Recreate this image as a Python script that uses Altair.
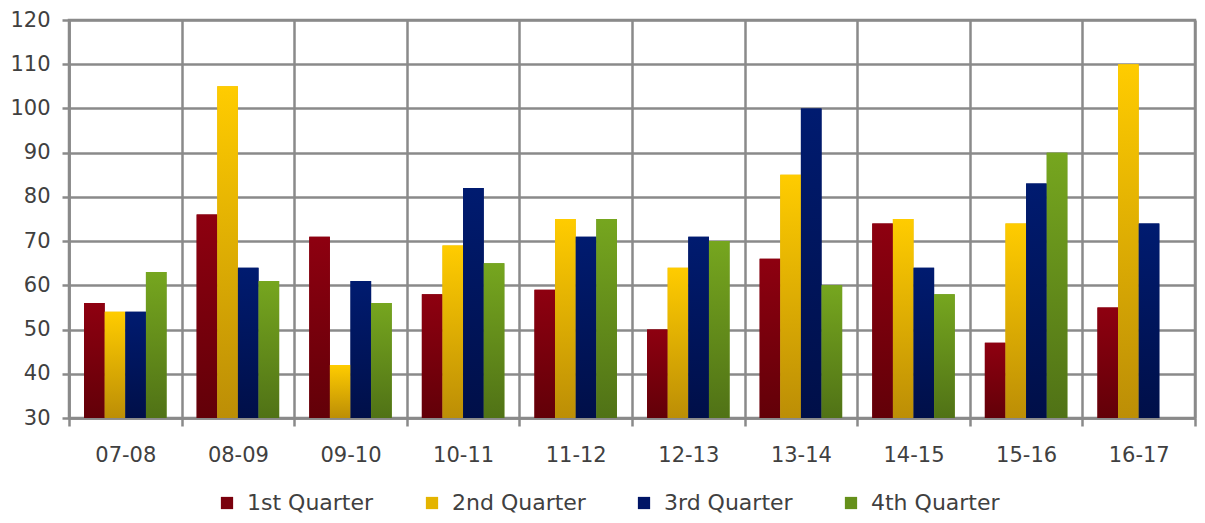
import altair as alt
import pandas as pd

seasons = ["07-08", "08-09", "09-10", "10-11", "11-12", "12-13", "13-14", "14-15", "15-16", "16-17"]
quarters = ["1st Quarter", "2nd Quarter", "3rd Quarter", "4th Quarter"]
q1 = [56, 76, 71, 58, 59, 50, 66, 74, 47, 55]
q2 = [54, 105, 42, 69, 75, 64, 85, 75, 74, 110]
q3 = [54, 64, 61, 82, 71, 71, 100, 64, 83, 74]
q4 = [63, 61, 56, 65, 75, 70, 60, 58, 90, None]

legend_colors = ["#7A000C", "#E4B400", "#001566", "#65901A"]
grad_top = ["#8E0010", "#FFCC00", "#001B70", "#76A61F"]
grad_bottom = ["#620008", "#BC8E06", "#000F48", "#507216"]

rows = []
for q, vals in zip(quarters, [q1, q2, q3, q4]):
    for s, v in zip(seasons, vals):
        if v is not None:
            rows.append({"season": s, "quarter": q, "value": v})
df = pd.DataFrame(rows)

FONT = "DejaVu Sans"
TXT = "#404040"
GRID = "#8a8a8a"

x_enc = alt.X(
    "season:N",
    sort=seasons,
    scale=alt.Scale(domain=seasons, paddingInner=0, paddingOuter=0),
    axis=alt.Axis(
        title=None, labelAngle=0, tickBand="extent", grid=True,
        tickSize=8, labelPadding=18, labelFontSize=21,
    ),
)
xo_enc = alt.XOffset(
    "quarter:N",
    scale=alt.Scale(domain=quarters, paddingInner=0, paddingOuter=0.73),
)
y_enc = alt.Y(
    "value:Q",
    scale=alt.Scale(domain=[30, 120], nice=False, zero=False),
    axis=alt.Axis(
        title=None, values=list(range(30, 121, 10)), grid=True,
        tickSize=7, labelPadding=12, labelFontSize=21,
    ),
)

base = alt.Chart(df).mark_bar().encode(
    x=x_enc,
    xOffset=xo_enc,
    y=y_enc,
    y2=alt.datum(30),
    color=alt.Color(
        "quarter:N",
        scale=alt.Scale(domain=quarters, range=legend_colors),
        legend=alt.Legend(
            title=None, orient="none", direction="horizontal",
            legendX=147, legendY=472,
            symbolType="square", symbolSize=150, labelFontSize=22,
            columnPadding=47, labelOffset=9,
        ),
    ),
)

layers = [base]
for q, top, bot in zip(quarters, grad_top, grad_bottom):
    g = alt.Gradient(
        gradient="linear",
        stops=[alt.GradientStop(color=top, offset=0), alt.GradientStop(color=bot, offset=1)],
        x1=0, x2=0, y1=0, y2=1,
    )
    layers.append(
        alt.Chart(df)
        .transform_filter(alt.datum.quarter == q)
        .mark_bar(color=g)
        .encode(x=x_enc, xOffset=xo_enc, y=y_enc, y2=alt.datum(30))
    )

chart = (
    alt.layer(*layers)
    .properties(
        width=1126, height=398,
        autosize=alt.AutoSizeParams(type="none"),
        padding={"left": 61, "top": 12, "right": 2, "bottom": 97},
    )
    .configure(font=FONT)
    .configure_view(stroke=GRID, strokeWidth=2.5)
    .configure_axis(
        gridColor=GRID, gridWidth=2.5, gridOpacity=1,
        domainColor=GRID, domainWidth=2.5,
        tickColor=GRID, tickWidth=2.5,
        labelColor=TXT, labelFont=FONT,
    )
    .configure_legend(labelColor=TXT, labelFont=FONT)
)

chart.save("out.html", embed_options={"renderer": "svg", "actions": False})
